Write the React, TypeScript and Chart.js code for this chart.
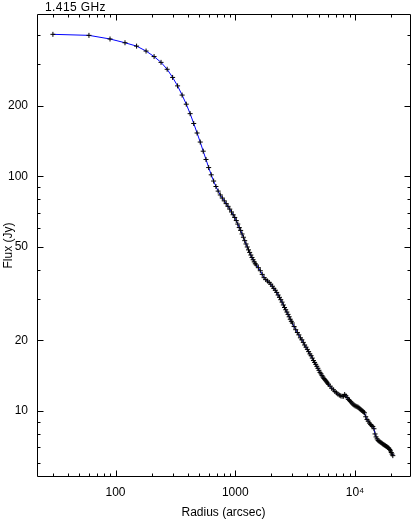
import React, { useEffect, useRef } from 'react';
import { Chart, registerables } from 'chart.js';

Chart.register(...registerables);

const chartTitle = '1.415 GHz';
const xAxisLabel = 'Radius (arcsec)';
const yAxisLabel = 'Flux (Jy)';

const radiusArcsec = [
  30, 60, 90, 120, 150, 180, 210, 240, 270, 300,
  330, 360, 390, 420, 450, 480, 510, 540, 570, 600,
  630, 660, 690, 720, 750, 780, 810, 840, 870, 900,
  930, 960, 990, 1020, 1050, 1080, 1110, 1140, 1170, 1200,
  1230, 1260, 1290, 1320, 1350, 1380, 1410, 1440, 1470, 1500,
  1560, 1620, 1680, 1740, 1800, 1860, 1920, 1980, 2040, 2100,
  2160, 2220, 2280, 2340, 2400, 2460, 2520, 2580, 2640, 2700,
  2760, 2820, 2880, 2940, 3000,
  3100, 3200, 3300, 3400, 3500, 3600, 3700, 3800, 3900, 4000,
  4100, 4200, 4300, 4400, 4500, 4600, 4700, 4800, 4900, 5000,
  5100, 5200, 5300, 5400, 5500, 5600, 5700, 5800, 5900, 6000,
  6200, 6400, 6600, 6800, 7000, 7200, 7400, 7600, 7800, 8000,
  8200, 8400, 8600, 8800, 9000, 9200, 9400, 9600, 9800, 10000,
  10200, 10400, 10600, 10800, 11000, 11200, 11400, 11600, 11800, 12000,
  12300, 12600, 12900, 13200, 13500, 13800, 14100, 14400, 14700, 15000,
  15300, 15600, 15900, 16200, 16500, 16800, 17100, 17400, 17700, 18000,
  18300, 18600, 18900, 19200, 19500, 19800, 20100, 20400, 20700,
];

const fluxJy = [
  403, 399, 385, 371, 359, 342, 324, 306, 286, 264,
  243, 222, 203, 185, 168, 153, 140, 128, 118, 109,
  101.5, 95.5, 90.5, 86.5, 83.3, 80.8, 78.6, 76.5, 74.5, 72.5,
  70.5, 68.6, 66.8, 64.8, 62.6, 60.5, 58.8, 56.8, 55.0, 53.2,
  51.5, 50.0, 48.6, 47.4, 46.2, 45.1, 44.1, 43.2, 42.4, 41.9,
  40.8, 39.6, 38.2, 37.0, 36.3, 35.8, 35.3, 34.7, 34.0, 33.3,
  32.7, 32.0, 31.2, 30.5, 29.8, 29.1, 28.3, 27.6, 27.0, 26.4,
  25.8, 25.2, 24.6, 24.1, 23.7,
  22.9, 22.2, 21.6, 21.1, 20.5, 20.1, 19.6, 19.1, 18.7, 18.3,
  17.9, 17.5, 17.2, 16.8, 16.4, 16.1, 15.8, 15.5, 15.2, 14.9,
  14.6, 14.4, 14.15, 13.95, 13.75, 13.6, 13.45, 13.3, 13.15, 13.0,
  12.75, 12.5, 12.3, 12.1, 11.95, 11.8, 11.68, 11.6, 11.55, 11.55,
  11.75, 11.6, 11.4, 11.2, 11.1, 10.95, 10.82, 10.7, 10.6, 10.52,
  10.47, 10.42, 10.38, 10.3, 10.2, 10.12, 10.05, 9.98, 9.9, 9.82,
  9.45, 9.2, 9.05, 8.88, 8.75, 8.65, 8.58, 8.4, 7.98, 7.75,
  7.6, 7.48, 7.42, 7.38, 7.33, 7.28, 7.22, 7.18, 7.14, 7.1,
  7.06, 7.02, 6.98, 6.93, 6.85, 6.76, 6.65, 6.55, 6.45,
];

const xMajorTicks = [100, 1000, 10000];
const xMajorLabels = ['100', '1000', '10\u2074'];
const xMinorTicks = [
  30, 40, 50, 60, 70, 80, 90,
  200, 300, 400, 500, 600, 700, 800, 900,
  2000, 3000, 4000, 5000, 6000, 7000, 8000, 9000,
  20000,
];
const yMajorTicks = [10, 20, 50, 100, 200];
const yMajorLabels = ['10', '20', '50', '100', '200'];
const yMinorTicks = [6, 7, 8, 9, 30, 40, 60, 70, 80, 90, 300, 400];

const FONT = 'Liberation Sans, Arial, sans-serif';

function labelFor(v: number, ticks: number[], labels: string[]): string {
  for (let i = 0; i < ticks.length; i++) {
    if (Math.abs(v - ticks[i]) / ticks[i] < 1e-6) return labels[i];
  }
  return '';
}

const framePlugin = {
  id: 'frameTicks',
  afterDraw(chart: any) {
    const { ctx, chartArea: a, scales } = chart;
    const xs = scales.x;
    const ys = scales.y;
    ctx.save();
    ctx.strokeStyle = '#000';
    ctx.lineWidth = 1;
    const L = Math.round(a.left) + 0.5;
    const R = Math.round(a.right) + 0.5;
    const T = Math.round(a.top) + 0.5;
    const B = Math.round(a.bottom) - 0.5;
    ctx.beginPath();
    ctx.rect(L, T, R - L, B - T);
    ctx.stroke();
    const drawX = (vals: number[], len: number) => {
      for (const v of vals) {
        const p = Math.round(xs.getPixelForValue(v)) + 0.5;
        ctx.beginPath();
        ctx.moveTo(p, B);
        ctx.lineTo(p, B - len);
        ctx.moveTo(p, T);
        ctx.lineTo(p, T + len);
        ctx.stroke();
      }
    };
    const drawY = (vals: number[], len: number) => {
      for (const v of vals) {
        const p = Math.round(ys.getPixelForValue(v)) + 0.5;
        ctx.beginPath();
        ctx.moveTo(L, p);
        ctx.lineTo(L + len, p);
        ctx.moveTo(R, p);
        ctx.lineTo(R - len, p);
        ctx.stroke();
      }
    };
    drawX(xMajorTicks, 6);
    drawX(xMinorTicks, 3);
    drawY(yMajorTicks, 6);
    drawY(yMinorTicks, 3);
    ctx.fillStyle = '#000';
    ctx.font = `12px ${FONT}`;
    ctx.textAlign = 'left';
    ctx.textBaseline = 'alphabetic';
    try { (ctx as any).letterSpacing = '0.4px'; } catch (e) {}
    ctx.fillText(chartTitle, 45, 11);
    ctx.restore();
  },
};

export default function App() {
  const ref = useRef<HTMLCanvasElement | null>(null);
  useEffect(() => {
    if (!ref.current) return;
    const points = radiusArcsec.map((r, i) => ({ x: r, y: fluxJy[i] }));
    const chart = new Chart(ref.current, {
      type: 'scatter',
      data: {
        datasets: [
          {
            data: points,
            showLine: true,
            borderColor: '#0000ff',
            borderWidth: 1,
            tension: 0,
            pointStyle: 'cross',
            pointRadius: 2.5,
            pointBorderColor: '#000',
            pointBorderWidth: 1,
            pointBackgroundColor: '#000',
          } as any,
        ],
      },
      options: {
        animation: false,
        responsive: false,
        events: [],
        layout: { padding: { top: 14, right: 3, left: 0, bottom: 0 } },
        plugins: {
          legend: { display: false },
          tooltip: { enabled: false },
          title: { display: false },
        },
        scales: {
          x: {
            type: 'logarithmic',
            min: 22.1,
            max: 28800,
            grid: { display: false, drawTicks: false },
            border: { display: false },
            ticks: {
              autoSkip: false,
              maxRotation: 0,
              minRotation: 0,
              padding: 8,
              color: '#000',
              font: { family: FONT, size: 12 },
              callback: (v: any) => labelFor(Number(v), xMajorTicks, xMajorLabels),
            },
            title: {
              display: true,
              text: xAxisLabel,
              color: '#000',
              font: { family: FONT, size: 12 },
              padding: { top: 0, bottom: 0 },
            },
            afterFit: (s: any) => {
              s.height = 43;
              s.paddingLeft = 0;
              s.paddingRight = 0;
              s.paddingTop = 0;
              s.paddingBottom = 0;
            },
          },
          y: {
            type: 'logarithmic',
            position: 'left',
            min: 5.23,
            max: 492,
            grid: { display: false, drawTicks: false },
            border: { display: false },
            ticks: {
              autoSkip: false,
              padding: 9,
              color: '#000',
              font: { family: FONT, size: 12 },
              callback: (v: any) => labelFor(Number(v), yMajorTicks, yMajorLabels),
            },
            title: {
              display: true,
              text: yAxisLabel,
              color: '#000',
              font: { family: FONT, size: 12 },
              padding: { top: 1, bottom: 0 },
            },
            afterFit: (s: any) => {
              s.width = 37;
              s.paddingLeft = 0;
              s.paddingRight = 0;
              s.paddingTop = 0;
              s.paddingBottom = 0;
            },
          },
        },
      } as any,
      plugins: [framePlugin],
    });
    return () => chart.destroy();
  }, []);
  return (
    <div style={{ position: 'absolute', left: 0, top: 0, width: 415, height: 520, background: '#fff' }}>
      <canvas ref={ref} width={415} height={520} style={{ display: 'block' }} />
    </div>
  );
}
